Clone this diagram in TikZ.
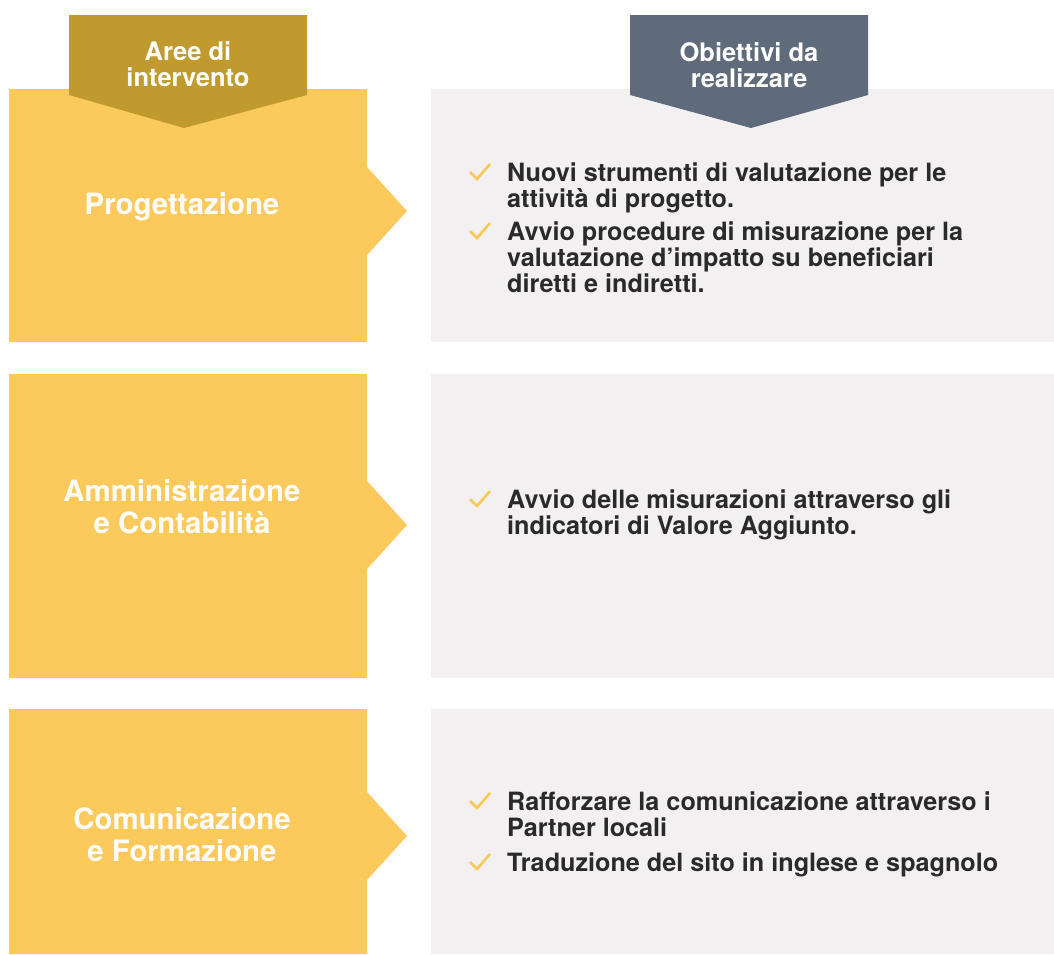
\documentclass[tikz,border=0pt]{standalone}
\usepackage{fontspec}
\setmainfont{TeX Gyre Heros}
\definecolor{gold}{HTML}{C09A2E}
\definecolor{sunny}{HTML}{FCC95C}
\definecolor{paper}{HTML}{F2F0F1}
\definecolor{slate}{HTML}{5F6B7B}
\definecolor{ink}{HTML}{2A2A2A}
\definecolor{tickc}{HTML}{FAC857}
\newcommand\stackl[1]{\begin{tabular}[t]{@{}l@{}}#1\end{tabular}}
\newcommand\stackc[1]{\begin{tabular}[t]{@{}c@{}}#1\end{tabular}}
\begin{document}
\begin{tikzpicture}[x=1pt,y=-1pt,
  area/.style={fill=sunny},
  goal/.style={fill=paper},
  headtxt/.style={anchor=base,inner sep=0,text=white,font=\fontsize{25.5}{26}\selectfont\bfseries},
  lbl/.style={anchor=base,inner sep=0,text=white,font=\fontsize{29.4}{32}\selectfont\bfseries},
  item/.style={anchor=base west,inner sep=0,text=ink,font=\fontsize{25.2}{25}\selectfont\bfseries},
  tick/.pic={\draw[tickc,line width=2.6pt] (-7,-9) -- (0,-2) -- (13,-17);}]
\useasboundingbox (0,0) rectangle (1054,954);
\fill[white] (0,0) rectangle (1054,954);
% rows
\fill[area] (9,89) -- (367,89) -- (367,167) -- (407,211) -- (367,255) -- (367,342) -- (9,342) -- cycle;
\fill[goal] (431,89) rectangle (1054,342);
\fill[area] (9,374) -- (367,374) -- (367,481) -- (407,525) -- (367,569) -- (367,678) -- (9,678) -- cycle;
\fill[goal] (431,374) rectangle (1054,678);
\fill[area] (9,709) -- (367,709) -- (367,792) -- (407,836) -- (367,880) -- (367,954) -- (9,954) -- cycle;
\fill[goal] (431,709) rectangle (1054,954);
% headers
\fill[gold] (69,15) -- (307,15) -- (307,95) -- (184,128) -- (69,95) -- cycle;
\fill[slate] (630,15) -- (868,15) -- (868,95) -- (751,128) -- (630,95) -- cycle;
\node[headtxt] (h1) at (188,60) {\stackc{Aree di\\intervento}};
\node[headtxt] (h2) at (749,61) {\stackc{Obiettivi da\\realizzare}};
% left labels
\node[lbl] (a1) at (182,214) {Progettazione};
\node[lbl] (a2) at (182,501) {\stackc{Amministrazione\\e Contabilità}};
\node[lbl] (a3) at (182,829) {\stackc{Comunicazione\\e Formazione}};
% items
\pic at (477,181) {tick};
\node[item] (o11) at (507,181) {\stackl{Nuovi strumenti di valutazione per le\\attività di progetto.}};
\pic at (477,240) {tick};
\node[item] (o12) at (507,240) {\stackl{Avvio procedure di misurazione per la\\valutazione d’impatto su beneficiari\\diretti e indiretti.}};
\pic at (477,508) {tick};
\node[item] (o21) at (507,508) {\stackl{Avvio delle misurazioni attraverso gli\\indicatori di Valore Aggiunto.}};
\pic at (477,810) {tick};
\node[item] (o31) at (507,810) {\stackl{Rafforzare la comunicazione attraverso i\\Partner locali}};
\pic at (477,871) {tick};
\node[item] (o32) at (507,871) {Traduzione del sito in inglese e spagnolo};
\end{tikzpicture}
\end{document}
